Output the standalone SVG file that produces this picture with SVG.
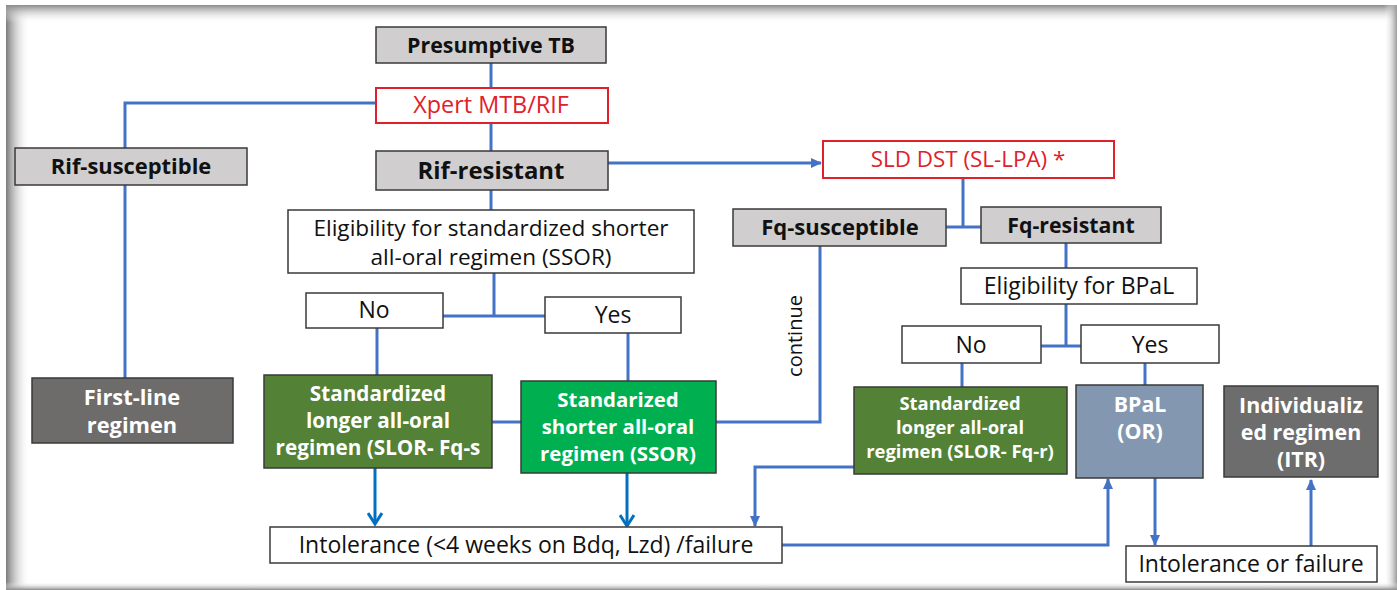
<svg xmlns="http://www.w3.org/2000/svg" width="1397" height="590" viewBox="0 0 1397 590">
<defs>
<linearGradient id="gl" x1="0" y1="0" x2="1" y2="0"><stop offset="0" stop-color="#7a7a7a"/><stop offset="1" stop-color="#fff" stop-opacity="0"/></linearGradient>
<linearGradient id="gt" x1="0" y1="0" x2="0" y2="1"><stop offset="0" stop-color="#8a8a8a"/><stop offset="1" stop-color="#fff" stop-opacity="0"/></linearGradient>
<linearGradient id="gr" x1="1" y1="0" x2="0" y2="0"><stop offset="0" stop-color="#9a9a9a"/><stop offset="1" stop-color="#fff" stop-opacity="0"/></linearGradient>
<linearGradient id="gb" x1="0" y1="1" x2="0" y2="0"><stop offset="0" stop-color="#8a8a8a"/><stop offset="1" stop-color="#fff" stop-opacity="0"/></linearGradient>
<marker id="af" markerUnits="userSpaceOnUse" markerWidth="12" markerHeight="12" refX="10" refY="6" orient="auto"><path d="M0,1 L11,6 L0,11 Z" fill="#4472c4"/></marker>
<marker id="ao" markerUnits="userSpaceOnUse" markerWidth="16" markerHeight="16" refX="13" refY="8" orient="auto"><path d="M2,1 L13,8 L2,15" fill="none" stroke="#0070c0" stroke-width="3"/></marker>
</defs>
<style>
text{font-family:"Open Sans","Noto Sans","Liberation Sans",sans-serif;text-anchor:middle;fill:#111}
.t{font-size:23px}
.b{font-weight:bold}
.w{fill:#fff;font-weight:bold}
.red{fill:#e0202a}
.box{stroke:#3a3a3a;stroke-width:1.5}
.wh{fill:#fff}
.gr{fill:#d0cece}
.rb{fill:#fff;stroke:#e0202a;stroke-width:2}
.c{fill:none;stroke:#4472c4;stroke-width:3}
.d{fill:none;stroke:#0070c0;stroke-width:3}
</style>
<rect x="0" y="0" width="1397" height="590" fill="#fff"/>
<rect x="6" y="5" width="24" height="585" fill="url(#gl)"/>
<rect x="6" y="5" width="1391" height="18" fill="url(#gt)"/>
<rect x="1384" y="5" width="13" height="585" fill="url(#gr)"/>
<rect x="6" y="582" width="1391" height="8" fill="url(#gb)"/>
<g id="connectors">
<path class="c" d="M491,63 V88"/>
<path class="c" d="M376,103 H125 V148"/>
<path class="c" d="M125,185 V378"/>
<path class="c" d="M491,123 V151"/>
<path class="c" d="M608,163 H821" marker-end="url(#af)"/>
<path class="c" d="M491,190 V210"/>
<path class="c" d="M494,273 V316"/>
<path class="c" d="M443,316 H545"/>
<path class="c" d="M377,328 V375"/>
<path class="c" d="M628,333 V381"/>
<path class="c" d="M492,422 H521"/>
<path class="d" d="M375,468 V524" marker-end="url(#ao)"/>
<path class="d" d="M627,473 V526" marker-end="url(#ao)"/>
<path class="c" d="M963,178 V226"/>
<path class="c" d="M946,227 H981"/>
<path class="c" d="M820,246 V422 H716"/>
<path class="c" d="M1066,243 V268"/>
<path class="c" d="M1066,304 V346"/>
<path class="c" d="M1041,346 H1081"/>
<path class="c" d="M962,363 V387"/>
<path class="c" d="M1145,363 V385"/>
<path class="c" d="M854,467 H755 V526" marker-end="url(#af)"/>
<path class="c" d="M782,545 H1108 V479" marker-end="url(#af)"/>
<path class="c" d="M1155,478 V545" marker-end="url(#af)"/>
<path class="c" d="M1311,546 V480" marker-end="url(#af)"/>
<text x="795" y="336" style="font-size:20px" transform="rotate(-90 795 336)" dy="7">continue</text>
</g>
<g id="presumptive"><rect class="box gr" x="376" y="27" width="230" height="36"/><text class="b" x="491" y="53" style="font-size:21.4px">Presumptive TB</text></g>
<g id="xpert"><rect class="rb" x="376" y="88" width="232" height="35"/><text class="red" x="491" y="113" style="font-size:23.4px">Xpert MTB/RIF</text></g>
<g id="rifsus"><rect class="box gr" x="15" y="148" width="232" height="37"/><text class="b" x="131" y="174" style="font-size:21.9px">Rif-susceptible</text></g>
<g id="firstline"><rect class="box" fill="#6e6b6b" x="32" y="378" width="201" height="65"/><text class="w" x="132" y="405" style="font-size:21.8px">First-line</text><text class="w" x="132" y="433" style="font-size:21.8px">regimen</text></g>
<g id="rifres"><rect class="box gr" x="376" y="151" width="232" height="39"/><text class="b" x="491" y="179" style="font-size:23.9px">Rif-resistant</text></g>
<g id="eligssor"><rect class="box wh" x="288" y="210" width="406" height="63"/><text x="491" y="236" style="font-size:22.6px">Eligibility for standardized shorter</text><text x="491" y="265" style="font-size:22.6px">all-oral regimen (SSOR)</text></g>
<g id="no1"><rect class="box wh" x="306" y="293" width="137" height="35"/><text class="t" x="374" y="318">No</text></g>
<g id="yes1"><rect class="box wh" x="545" y="297" width="136" height="36"/><text class="t" x="613" y="323">Yes</text></g>
<g id="slorfqs"><rect class="box" fill="#538135" x="264" y="375" width="228" height="93"/><text class="w" x="378" y="401" style="font-size:20.7px">Standardized</text><text class="w" x="378" y="428" style="font-size:20.7px">longer all-oral</text><text class="w" x="378" y="455" style="font-size:20.7px">regimen (SLOR- Fq-s</text></g>
<g id="ssor"><rect class="box" fill="#00b050" x="521" y="381" width="195" height="92"/><text class="w" x="618" y="407" style="font-size:20.4px">Standarized</text><text class="w" x="618" y="434" style="font-size:20.4px">shorter all-oral</text><text class="w" x="618" y="461" style="font-size:20.4px">regimen (SSOR)</text></g>
<g id="intol1"><rect class="box wh" x="270" y="527" width="512" height="36"/><text class="t" x="526" y="553">Intolerance (&lt;4 weeks on Bdq, Lzd) /failure</text></g>
<g id="slddst"><rect class="rb" x="823" y="141" width="291" height="37"/><text class="red" x="968" y="167" style="font-size:22.4px">SLD DST (SL-LPA) *</text></g>
<g id="fqsus"><rect class="box gr" x="733" y="209" width="213" height="37"/><text class="b" x="840" y="235" style="font-size:22px">Fq-susceptible</text></g>
<g id="fqres"><rect class="box gr" x="981" y="207" width="180" height="36"/><text class="b" x="1071" y="233" style="font-size:21.3px">Fq-resistant</text></g>
<g id="eligbpal"><rect class="box wh" x="961" y="268" width="236" height="36"/><text class="t" x="1079" y="294">Eligibility for BPaL</text></g>
<g id="no2"><rect class="box wh" x="902" y="326" width="139" height="37"/><text class="t" x="971" y="353">No</text></g>
<g id="yes2"><rect class="box wh" x="1081" y="325" width="138" height="38"/><text class="t" x="1150" y="353">Yes</text></g>
<g id="slorfqr"><rect class="box" fill="#538135" x="854" y="387" width="213" height="87"/><text class="w" x="960" y="410" style="font-size:18.4px">Standardized</text><text class="w" x="960" y="434" style="font-size:18.4px">longer all-oral</text><text class="w" x="960" y="458" style="font-size:18.4px">regimen (SLOR- Fq-r)</text></g>
<g id="bpal"><rect class="box" fill="#8497b0" x="1076" y="385" width="127" height="93"/><text class="w" x="1140" y="412" style="font-size:21.3px">BPaL</text><text class="w" x="1140" y="439" style="font-size:21.3px">(OR)</text></g>
<g id="itr"><rect class="box" fill="#6d6d6d" x="1224" y="386" width="154" height="91"/><text class="w" x="1301" y="413" style="font-size:21.4px">Individualiz</text><text class="w" x="1301" y="440" style="font-size:21.4px">ed regimen</text><text class="w" x="1301" y="467" style="font-size:21.4px">(ITR)</text></g>
<g id="intol2"><rect class="box wh" x="1126" y="546" width="251" height="36"/><text class="t" x="1251" y="572">Intolerance or failure</text></g>
</svg>
